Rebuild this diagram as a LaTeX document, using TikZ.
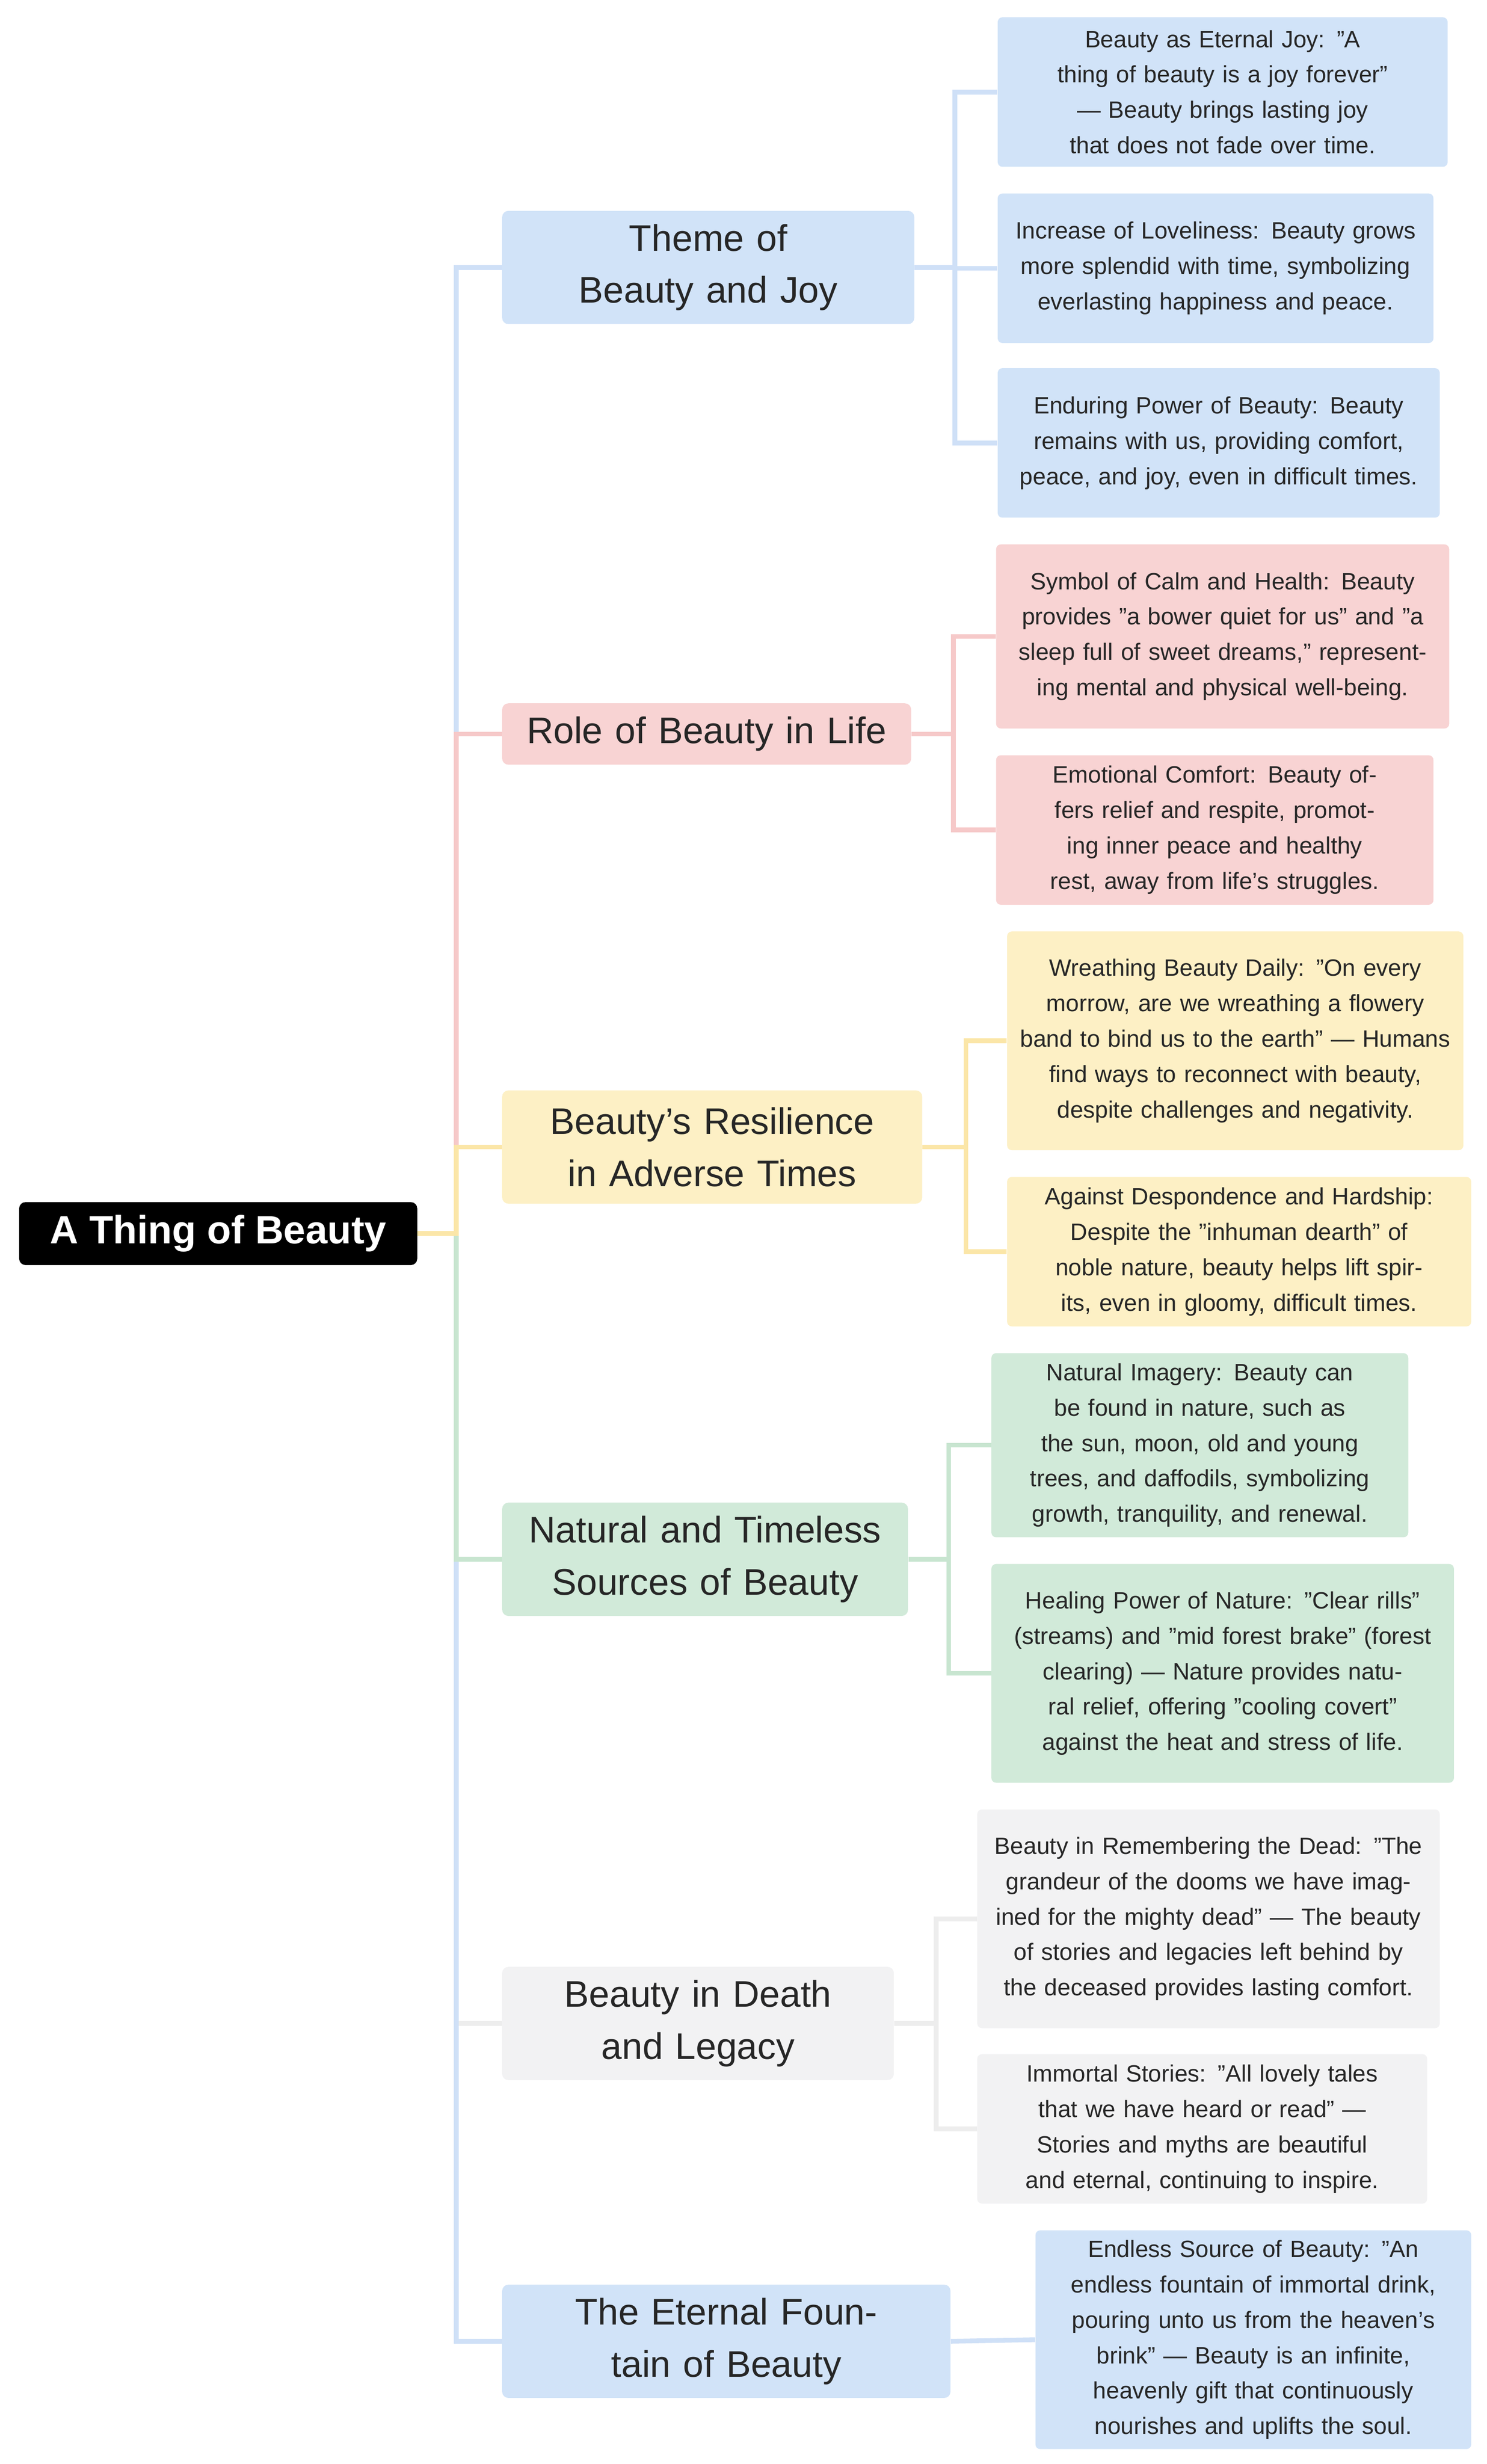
\documentclass[tikz,border=0pt]{standalone}
\usepackage{fontspec}
\setmainfont{Liberation Sans}
\definecolor{bF}{HTML}{D1E3F8}\definecolor{bL}{HTML}{CFE0F7}
\definecolor{rF}{HTML}{F8D3D3}\definecolor{rL}{HTML}{F6C9C9}
\definecolor{yF}{HTML}{FDF0C5}\definecolor{yL}{HTML}{FBE6A8}
\definecolor{gF}{HTML}{D1EAD9}\definecolor{gL}{HTML}{C8E5D0}
\definecolor{kF}{HTML}{F2F2F3}\definecolor{kL}{HTML}{EDEDED}
\begin{document}
\begin{tikzpicture}[x=1pt,y=-1pt,
 leaf/.style={rounded corners=3pt,inner sep=0pt,anchor=west,align=center,text=black!85,font=\fontsize{15}{22.5}\selectfont},
 br/.style={rounded corners=4pt,inner sep=0pt,anchor=west,align=center,text=black!85,font=\fontsize{23.5}{33}\selectfont},
 ln/.style={line width=3pt}]
\fill[white] (0,0) rectangle (945,1566);
\node[rounded corners=4pt,fill=black,text=white,font=\bfseries\fontsize{25}{30}\selectfont,minimum width=253pt,minimum height=40pt,inner sep=0pt,anchor=west] (root) at (12,784) {A Thing of Beauty};
\newcommand\Lf[7]{\node[leaf,fill=#3,minimum width=#4pt,minimum height=#5pt,text width=#4pt-14pt] (#1) at (#6,#2) {#7};}
\newcommand\Br[6]{\node[br,fill=#3,minimum width=#4pt,minimum height=#5pt,text width=#4pt-14pt] (#1) at (319,#2) {#6};}
\Br{b1}{170}{bF}{262}{72}{Theme of Beauty and Joy}
\Br{b2}{466.5}{rF}{260}{39}{Role of Beauty in Life}
\Br{b3}{729}{yF}{267}{72}{Beauty’s Resilience in Adverse Times}
\Br{b4}{991}{gF}{258}{72}{Natural and Timeless Sources of Beauty}
\Br{b5}{1286}{kF}{249}{72}{Beauty in Death and Legacy}
\Br{b6}{1488}{bF}{285}{72}{The Eternal Fountain of Beauty}
\Lf{l1a}{58.5}{bF}{286}{95}{634}{Beauty as Eternal Joy: "A thing of beauty is a joy forever" — Beauty brings lasting joy that does not fade over time.}
\Lf{l1b}{170.5}{bF}{277}{95}{634}{Increase of Loveliness: Beauty grows more splendid with time, symbolizing everlasting happiness and peace.}
\Lf{l1c}{281.5}{bF}{281}{95}{634}{Enduring Power of Beauty: Beauty remains with us, providing comfort, peace, and joy, even in difficult times.}
\Lf{l2a}{404.5}{rF}{288}{117}{633}{Symbol of Calm and Health: Beauty provides "a bower quiet for us" and "a sleep full of sweet dreams," representing mental and physical well-being.}
\Lf{l2b}{527.5}{rF}{278}{95}{633}{Emotional Comfort: Beauty offers relief and respite, promoting inner peace and healthy rest, away from life's struggles.}
\Lf{l3a}{661.5}{yF}{290}{139}{640}{Wreathing Beauty Daily: "On every morrow, are we wreathing a flowery band to bind us to the earth" — Humans find ways to reconnect with beauty, despite challenges and negativity.}
\Lf{l3b}{795.5}{yF}{295}{95}{640}{Against Despondence and Hardship: Despite the "inhuman dearth" of noble nature, beauty helps lift spirits, even in gloomy, difficult times.}
\Lf{l4a}{918.5}{gF}{265}{117}{630}{Natural Imagery: Beauty can be found in nature, such as the sun, moon, old and young trees, and daffodils, symbolizing growth, tranquility, and renewal.}
\Lf{l4b}{1063.5}{gF}{294}{139}{630}{Healing Power of Nature: "Clear rills" (streams) and "mid forest brake" (forest clearing) — Nature provides natural relief, offering "cooling covert" against the heat and stress of life.}
\Lf{l5a}{1219.5}{kF}{294}{139}{621}{Beauty in Remembering the Dead: "The grandeur of the dooms we have imagined for the mighty dead" — The beauty of stories and legacies left behind by the deceased provides lasting comfort.}
\Lf{l5b}{1353}{kF}{286}{95}{621}{Immortal Stories: "All lovely tales that we have heard or read" — Stories and myths are beautiful and eternal, continuing to inspire.}
\Lf{l6a}{1487}{bF}{277}{139}{658}{Endless Source of Beauty: "An endless fountain of immortal drink, pouring unto us from the heaven’s brink" — Beauty is an infinite, heavenly gift that continuously nourishes and uplifts the soul.}
\begin{scope}[on background layer/.style={}]
\end{scope}
% connectors root -> branches
\draw[ln,kL] (root.east) -- (290,784) |- (b5.west);
\draw[ln,bL] (root.east) -- (290,784) |- (b6.west);
\draw[ln,gL] (root.east) -- (290,784) |- (b4.west);
\draw[ln,bL] (root.east) -- (290,784) |- (b1.west);
\draw[ln,rL] (root.east) -- (290,784) |- (b2.west);
\draw[ln,yL] (root.east) -- (290,784) |- (b3.west);
% branches -> leaves
\foreach \l in {l1a,l1b,l1c}{\draw[ln,bL] (b1.east) -- (607,170) |- (\l.west);}
\foreach \l in {l2a,l2b}{\draw[ln,rL] (b2.east) -- (606,466.5) |- (\l.west);}
\foreach \l in {l3a,l3b}{\draw[ln,yL] (b3.east) -- (614,729) |- (\l.west);}
\foreach \l in {l4a,l4b}{\draw[ln,gL] (b4.east) -- (603,991) |- (\l.west);}
\foreach \l in {l5a,l5b}{\draw[ln,kL] (b5.east) -- (595,1286) |- (\l.west);}
\draw[ln,bL] (b6.east) -- (l6a.west);
\end{tikzpicture}
\end{document}
